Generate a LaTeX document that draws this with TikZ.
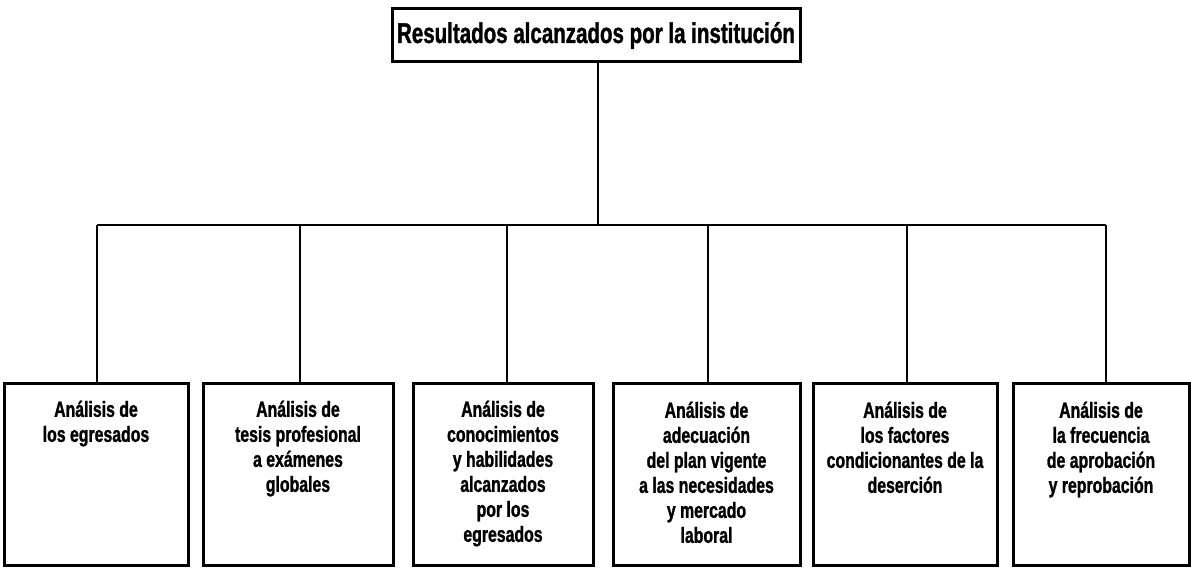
\documentclass[tikz,border=0pt]{standalone}
\usepackage{fontspec}
\setmainfont{Liberation Sans}[FakeStretch=0.72,BoldFeatures={FakeBold=1.2}]
\begin{document}
\begin{tikzpicture}[x=1pt,y=-1pt,
  topbox/.style={draw,line width=3pt,minimum width=408pt,minimum height=53pt,inner sep=0pt,
     font=\fontsize{28.5}{30}\selectfont\bfseries},
  leafbox/.style={draw,line width=3pt,minimum height=182pt,inner sep=0pt},
  leaftext/.style={anchor=north,align=center,inner sep=0pt,
     font=\fontsize{22}{25}\selectfont\bfseries},
  conn/.style={line width=2.6pt}]
\useasboundingbox (0,0) rectangle (1191,572);
\node[topbox] (top) at (596,35.5) {Resultados alcanzados por la institución};
\coordinate (hub) at (598,225);
\node[leafbox,minimum width=184pt] (b1) at (96,474) {};
\node[leafbox,minimum width=190pt] (b2) at (298,474) {};
\node[leafbox,minimum width=180pt] (b3) at (503,474) {};
\node[leafbox,minimum width=187pt] (b4) at (706.5,474) {};
\node[leafbox,minimum width=184pt] (b5) at (905,474) {};
\node[leafbox,minimum width=176pt] (b6) at (1101,474) {};
\node[leaftext] (t1) at ([yshift=-19pt]b1.north) {Análisis de\\los egresados};
\node[leaftext] (t2) at ([yshift=-19pt]b2.north) {Análisis de\\tesis profesional\\a exámenes\\globales};
\node[leaftext] (t3) at ([yshift=-19pt]b3.north) {Análisis de\\conocimientos\\y habilidades\\alcanzados\\por los\\egresados};
\node[leaftext] (t4) at ([yshift=-20pt]b4.north) {Análisis de\\adecuación\\del plan vigente\\a las necesidades\\y mercado\\laboral};
\node[leaftext] (t5) at ([yshift=-20pt]b5.north) {Análisis de\\los factores\\condicionantes de la\\deserción};
\node[leaftext] (t6) at ([yshift=-20pt]b6.north) {Análisis de\\la frecuencia\\de aprobación\\y reprobación};
\coordinate (d1) at (97,225);
\coordinate (d6) at (1106,225);
\draw[conn] (top.south -| hub) -- (hub);
\draw[conn] (d1) -- (d6);
\draw[conn] (d1) -- (d1 |- b1.north);
\draw[conn] (300,225) -- (300,0 |- b2.north);
\draw[conn] (507,225) -- (507,0 |- b3.north);
\draw[conn] (708,225) -- (708,0 |- b4.north);
\draw[conn] (907,225) -- (907,0 |- b5.north);
\draw[conn] (d6) -- (d6 |- b6.north);
\end{tikzpicture}
\end{document}
